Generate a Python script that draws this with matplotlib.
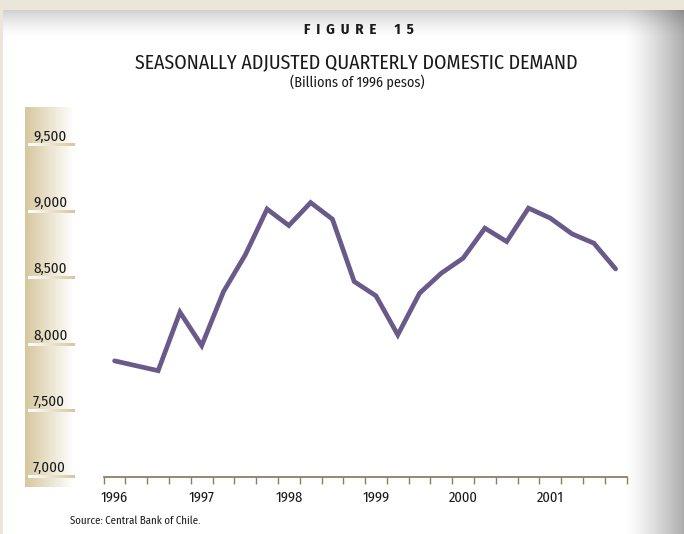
import numpy as np
import matplotlib.pyplot as plt

plt.rcParams['font.family'] = ['Fira Sans Condensed', 'DejaVu Sans']

# demande intérieure trimestrielle désaisonnalisée (milliards de pesos 1996)
annees = [1996, 1997, 1998, 1999, 2000, 2001]
trimestres = np.arange(24)
demande = [7873, 7836, 7799, 8240, 7988, 8395, 8672, 9017,
           8893, 9066, 8941, 8471, 8363, 8069, 8383, 8534,
           8647, 8873, 8772, 9024, 8949, 8830, 8760, 8566]
graduations_y = [7000, 7500, 8000, 8500, 9000, 9500]

W, H = 684, 534
fig = plt.figure(figsize=(W / 100, H / 100), dpi=100)

# fond : cadre beige, panneau blanc avec ombre à droite et en haut
fond = np.ones((H, W, 3))
xs = np.arange(W)
ombre_d = np.clip((xs - 625) / 59.0, 0, 1) ** 1.3 * 0.33
fond *= (1 - ombre_d)[None, :, None]
ys = np.arange(H)
ombre_h = np.clip(1 - (ys - 10) / 28.0, 0, 1) ** 1.5 * 0.18
fond *= (1 - ombre_h)[:, None, None]
beige = np.array([236, 230, 218]) / 255
fond[:10, :, :] = beige
fond[:, :3, :] = beige
axf = fig.add_axes([0, 0, 1, 1])
axf.imshow(fond, aspect='auto', extent=[0, W, H, 0])
axf.set_xlim(0, W)
axf.set_ylim(H, 0)
axf.axis('off')

# bande dégradée de l'axe vertical
tan = np.array([214, 199, 158]) / 255
t = np.linspace(0, 1, 100)
deg = tan[None, :] * (1 - t[:, None]) + np.ones(3)[None, :] * t[:, None]
axf.imshow(deg[None, :, :], aspect='auto', extent=[25, 74, 487, 107], zorder=1)

# petites barres sous les étiquettes de l'axe y
y0, y1 = 476.7, 145.0
def ypix(v):
    return y0 - (v - 7000) * (y0 - y1) / 2500

deg_inv = deg[::-1]
for v in graduations_y:
    yp = ypix(v)
    axf.imshow(deg_inv[None, :, :], aspect='auto', extent=[28, 75, yp + 1.5, yp - 1.5], zorder=2)
    axf.text(33, yp - 1.5, f'{v:,}', fontsize=10.8, color='#1a1a1a', ha='left', va='bottom', zorder=3)

# titres
axf.text(359, 30, 'F  I  G  U  R  E      1  5', fontsize=10.5, fontweight='bold', color='#1a1a1a',
         ha='center', va='center')
axf.text(356, 62, 'SEASONALLY ADJUSTED QUARTERLY DOMESTIC DEMAND', fontsize=14.3,
         color='#1a1a1a', ha='center', va='center')
axf.text(357, 82, '(Billions of 1996 pesos)', fontsize=10.2, color='#1a1a1a',
         ha='center', va='center')
axf.text(70, 521, 'Source: Central Bank of Chile.', fontsize=7.8, color='#1a1a1a',
         ha='left', va='center')

# zone du graphique
x_g, x_d = 103.7, 626.5
ax = fig.add_axes([x_g / W, (H - y0) / H, (x_d - x_g) / W, (y0 - y1) / H])
ax.patch.set_alpha(0)
ax.plot(trimestres + 0.5, demande, color='#6A5A8A', lw=3.4, solid_joinstyle='miter',
        solid_capstyle='round', clip_on=False)
ax.set_xlim(0, 24)
ax.set_ylim(7000, 9500)
for s in ['top', 'right', 'left']:
    ax.spines[s].set_visible(False)
ax.spines['bottom'].set_color('#8C7E68')
ax.spines['bottom'].set_linewidth(1.3)
ax.set_yticks([])
ax.set_xticks(np.arange(25))
ax.tick_params(axis='x', direction='out', length=5, width=1, color='#8C7E68', labelbottom=False)
for i, a in enumerate(annees):
    ax.text(4 * i + 0.5, -0.063, str(a), transform=ax.get_xaxis_transform(),
            fontsize=10.5, color='#1a1a1a', ha='center', va='center')

fig.savefig('out.png', dpi=100)
